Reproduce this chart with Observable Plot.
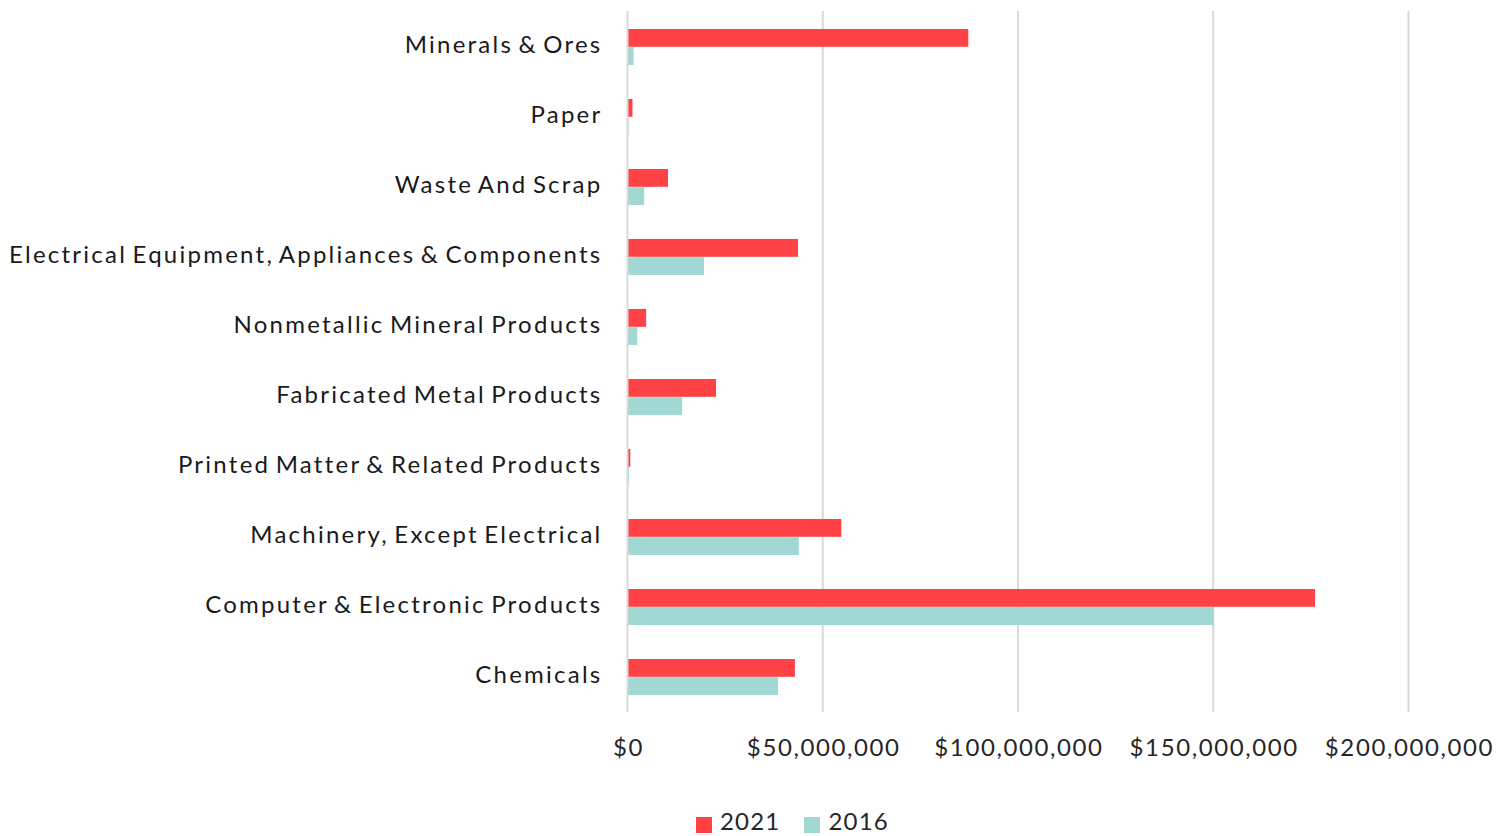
<!DOCTYPE html>
<html>
<head>
<meta charset="utf-8">
<script src="https://cdn.jsdelivr.net/npm/d3@7"></script>
<script src="https://cdn.jsdelivr.net/npm/@observablehq/plot@0.6"></script>
<style>
  html, body { margin: 0; padding: 0; background: #fff; }
  body { width: 1507px; height: 836px; overflow: hidden; font-family: Lato, "Noto Sans", sans-serif; color: #262626; }
  #legend { position: absolute; left: 696px; top: 806px; display: flex; align-items: center; font-size: 24px; line-height: 30px; letter-spacing: 1.2px; }
  #legend .item { display: flex; align-items: center; margin-right: 24px; }
  #legend .sw { width: 16px; height: 16px; margin-right: 8px; margin-top: 8px; }
  .ylab text { letter-spacing: 2.25px; word-spacing: -3px; }
  .xlab text { letter-spacing: 1.6px; }
</style>
</head>
<body>
<div id="chart"></div>
<div id="legend"></div>
<script>
const categories = [
  "Minerals & Ores",
  "Paper",
  "Waste And Scrap",
  "Electrical Equipment, Appliances & Components",
  "Nonmetallic Mineral Products",
  "Fabricated Metal Products",
  "Printed Matter & Related Products",
  "Machinery, Except Electrical",
  "Computer & Electronic Products",
  "Chemicals"
];
const series = ["2021", "2016"];
const values2021 = [87.4, 1.4, 10.5, 43.8, 4.9, 22.8, 0.85, 54.9, 176.2, 43.0]; // millions of dollars
const values2016 = [1.7, 0.4, 4.4, 19.7, 2.6, 14.1, 0.5, 44.0, 150.2, 38.7];
const xTicks = [0, 50e6, 100e6, 150e6, 200e6];
const colors = ["#FF4245", "#A1D8D3"];

const rows2021 = categories.map((c, i) => ({category: c, year: "2021", value: values2021[i] * 1e6}));
const rows2016 = categories.map((c, i) => ({category: c, year: "2016", value: values2016[i] * 1e6}));

const fmt = d => "$" + d3.format(",")(d);

const chart = Plot.plot({
  width: 1507,
  height: 790,
  marginLeft: 627,
  marginRight: 99,
  marginTop: 11,
  marginBottom: 78,
  style: {fontFamily: "Lato, 'Noto Sans', sans-serif", fontSize: "24px", color: "#262626", background: "#fff"},
  x: {domain: [0, 200e6], ticks: xTicks, tickFormat: fmt, label: null},
  y: {domain: categories, paddingInner: 0.486, paddingOuter: 0.25, label: null},
  color: {domain: series, range: colors},
  marks: [
    Plot.gridX(xTicks.slice(1), {stroke: "#d9d9d9", strokeOpacity: 1, strokeWidth: 2}),
    Plot.barX(rows2021, {y: "category", x: "value", fill: "year", insetBottom: 18.2, insetTop: 0}),
    Plot.barX(rows2016, {y: "category", x: "value", fill: "year", insetTop: 18.2, insetBottom: 0}),
    Plot.ruleX([0], {stroke: "#d9d9d9", strokeWidth: 2}),
    Plot.axisX(xTicks, {className: "xlab", tickSize: 0, tickPadding: 26, dx: 1, tickFormat: fmt, fontSize: 24, fill: "#262626", label: null}),
    Plot.axisY({className: "ylab", tickSize: 0, tickPadding: 25, dy: -2.5, fontSize: 24, fill: "#1a1a1a", label: null})
  ]
});
document.getElementById("chart").appendChild(chart);

const legend = document.getElementById("legend");
series.forEach((s, i) => {
  const item = document.createElement("div");
  item.className = "item";
  const sw = document.createElement("div");
  sw.className = "sw";
  sw.style.background = colors[i];
  const t = document.createElement("span");
  t.textContent = s;
  item.appendChild(sw);
  item.appendChild(t);
  legend.appendChild(item);
});
</script>
</body>
</html>
